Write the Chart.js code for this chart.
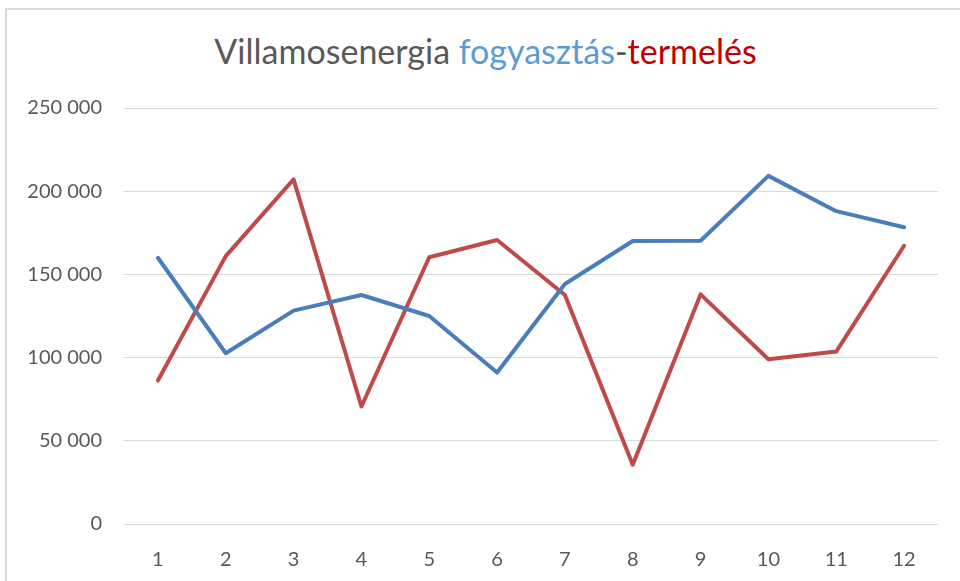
<!DOCTYPE html>
<html>
<head>
<meta charset="utf-8">
<script src="https://cdn.jsdelivr.net/npm/chart.js@4"></script>
<style>
  html, body { margin: 0; padding: 0; background: #fff; }
  body { width: 960px; height: 581px; position: relative; overflow: hidden; font-family: Lato, 'Open Sans', sans-serif; }
  .frame { position: absolute; left: 5px; top: 8px; width: 980px; height: 600px; border-left: 2px solid #d9d9d9; border-top: 2px solid #d9d9d9; }
  .title { position: absolute; left: 0; width: 971px; top: 31px; text-align: center; font-size: 34px; line-height: 40px; color: #595959; margin: 0; font-weight: normal; white-space: nowrap; }
  .title .cons { color: #5b9bd5; }
  .title .prod { color: #c00000; }
  .wrap { position: absolute; left: 0; top: 0; width: 960px; height: 581px; }
</style>
</head>
<body>
<div class="frame"></div>
<h1 class="title">Villamosenergia <span class="cons">fogyasztás</span>-<span class="prod">termelés</span></h1>
<div class="wrap"><canvas id="chart"></canvas></div>
<script>
// months 1..12, values
const months = ['1', '2', '3', '4', '5', '6', '7', '8', '9', '10', '11', '12'];
const fogyasztas = [160000, 102600, 128200, 137600, 125000, 91000, 144200, 170100, 170200, 209200, 188000, 178300];
const termeles = [86200, 161000, 207100, 70600, 160300, 170700, 137600, 35600, 138000, 99000, 103600, 167200];
const yTicks = [0, 50000, 100000, 150000, 200000, 250000];

const BLUE = '#4a7ebb';
const RED = '#be4b48';
const TEXT = '#595959';

// "250 000" style thousands separator
const fmt = (v) => String(v).replace(/\B(?=(\d{3})+(?!\d))/g, ' ');

function line(label, data, colour) {
  return {
    label,
    data,
    borderColor: colour,
    backgroundColor: colour,
    borderWidth: 4,
    pointRadius: 0,
    pointHoverRadius: 0,
    borderCapStyle: 'round',
    borderJoinStyle: 'round',
    tension: 0,
    fill: false,
  };
}

new Chart(document.getElementById('chart'), {
  type: 'line',
  data: {
    labels: months,
    datasets: [
      line('fogyasztás', fogyasztas, BLUE),
      line('termelés', termeles, RED),
    ],
  },
  options: {
    responsive: true,
    maintainAspectRatio: false,
    animation: false,
    layout: { padding: { top: 108, right: 22, bottom: 0, left: 0 } },
    plugins: {
      legend: { display: false },
      title: { display: false },
      tooltip: { enabled: false },
    },
    scales: {
      x: {
        offset: true,
        grid: { display: false },
        border: { display: false },
        ticks: { color: TEXT, font: { family: 'Lato', size: 20 }, padding: 16, maxRotation: 0 },
        afterFit: (s) => { s.height = 57; },
      },
      y: {
        min: 0,
        max: 250000,
        afterBuildTicks: (s) => { s.ticks = yTicks.map((v) => ({ value: v })); },
        grid: { color: '#d9d9d9', lineWidth: 1, drawTicks: false },
        border: { display: false },
        ticks: { color: TEXT, font: { family: 'Lato', size: 20 }, padding: 22, callback: (v) => fmt(v) },
        afterFit: (s) => { s.width = 124; },
      },
    },
  },
});
</script>
</body>
</html>
